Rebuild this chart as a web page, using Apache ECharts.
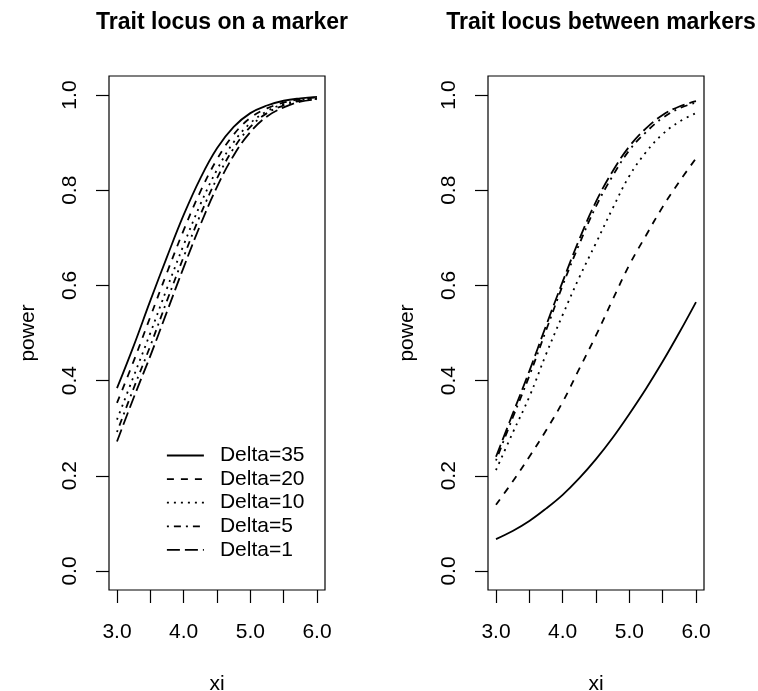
<!DOCTYPE html>
<html><head><meta charset="utf-8">
<script src="https://cdn.jsdelivr.net/npm/echarts@6/dist/echarts.min.js"></script>
<style>html,body{margin:0;padding:0;background:#fff}#c{width:758px;height:691px}</style>
</head><body><div id="c"></div>
<script>
const xs = [3.0,3.25,3.5,3.75,4.0,4.25,4.5,4.75,5.0,5.25,5.5,5.75,6.0];
const seriesNames = ['Delta=35','Delta=20','Delta=10','Delta=5','Delta=1'];
const xTicks = [3.0,3.5,4.0,4.5,5.0,5.5,6.0];
const xLabels = [3.0,4.0,5.0,6.0];
const yTicks = [0.0,0.2,0.4,0.6,0.8,1.0];
const titles = ['Trait locus on a marker','Trait locus between markers'];
const xName = 'xi', yName = 'power';

const markerD35 = [.384,.473,.568,.660,.748,.825,.888,.933,.962,.978,.988,.993,.996];
const markerD20 = [.353,.441,.534,.627,.716,.797,.865,.917,.952,.972,.984,.991,.995];
const markerD10 = [.318,.409,.500,.594,.685,.770,.843,.901,.941,.966,.981,.989,.994];
const markerD5  = [.292,.384,.473,.568,.660,.748,.825,.888,.933,.962,.978,.988,.992];
const markerD1  = [.272,.364,.452,.545,.638,.727,.807,.873,.922,.955,.974,.986,.991];

const betweenD35 = [.067,.084,.105,.131,.160,.195,.235,.280,.330,.383,.440,.501,.565];
const betweenD20 = [.139,.188,.240,.295,.355,.425,.495,.570,.643,.705,.765,.818,.867];
const betweenD10 = [.212,.290,.366,.455,.538,.617,.689,.762,.830,.880,.918,.944,.962];
const betweenD5  = [.232,.322,.410,.505,.600,.687,.766,.830,.884,.922,.952,.972,.984];
const betweenD1  = [.240,.330,.420,.515,.608,.697,.776,.840,.892,.930,.958,.976,.987];

const FONT = '"Liberation Sans", Arial, Helvetica, sans-serif';
const FS = 21;
const dashes = ['solid',[7,7],[2,5],[2,5,7,5],[13,5]];
const markerSets = [markerD35,markerD20,markerD10,markerD5,markerD1];
const betweenSets = [betweenD35,betweenD20,betweenD10,betweenD5,betweenD1];

const grids = [
  {left:109, top:76, width:216, height:514, show:true, borderColor:'#000', borderWidth:1.2, backgroundColor:'transparent', containLabel:false, outerBoundsMode:'none'},
  {left:488, top:76, width:216, height:514, show:true, borderColor:'#000', borderWidth:1.2, backgroundColor:'transparent', containLabel:false, outerBoundsMode:'none'}
];
function xAxis(i){return {type:'value', gridIndex:i, min:2.88, max:6.12, position:'bottom',
  name:xName, nameLocation:'middle', nameGap:84, nameTextStyle:{fontSize:FS, fontFamily:FONT, color:'#000'},
  axisLine:{show:false, onZero:false}, splitLine:{show:false},
  axisTick:{show:true, length:13, inside:false, customValues:xTicks, lineStyle:{color:'#000', width:1.2}},
  axisLabel:{show:true, customValues:xLabels, margin:32, fontSize:FS, fontFamily:FONT, color:'#000', formatter:v=>v.toFixed(1)}};}
function yAxis(i){return {type:'value', gridIndex:i, min:-0.04, max:1.04, position:'left',
  name:yName, nameLocation:'middle', nameGap:70, nameRotate:90, nameTextStyle:{fontSize:FS, fontFamily:FONT, color:'#000'},
  axisLine:{show:false, onZero:false}, splitLine:{show:false},
  axisTick:{show:true, length:13, inside:false, customValues:yTicks, lineStyle:{color:'#000', width:1.2}},
  axisLabel:{show:true, customValues:yTicks, rotate:90, margin:28, fontSize:FS, fontFamily:FONT, color:'#000', formatter:v=>v.toFixed(1)}};}

const series = [];
[markerSets, betweenSets].forEach((sets, gi) => {
  sets.forEach((vals, k) => {
    series.push({type:'line', name:seriesNames[k], xAxisIndex:gi, yAxisIndex:gi,
      data: xs.map((x,j)=>[x, vals[j]]), smooth:0.4, symbol:'none', showSymbol:false,
      lineStyle:{color:'#000', width:1.8, type:dashes[k], cap:'butt'}, itemStyle:{color:'#000'}, silent:true});
  });
});

const chart = echarts.init(document.getElementById('c'), null, {renderer:'canvas'});
chart.setOption({
  animation:false, backgroundColor:'#fff',
  title:[
    {text:titles[0], left:217, top:6, textAlign:'center', textStyle:{fontSize:23, fontWeight:'bold', fontFamily:FONT, color:'#000'}},
    {text:titles[1], left:596, top:6, textAlign:'center', textStyle:{fontSize:23, fontWeight:'bold', fontFamily:FONT, color:'#000'}}
  ],
  legend:{orient:'vertical', left:166, top:445, padding:0, itemWidth:37, itemHeight:14, itemGap:2.6,
    data:seriesNames, selectedMode:false,
    itemStyle:{opacity:0},
    lineStyle:{width:1.8},
    textStyle:{fontSize:FS, lineHeight:20, fontFamily:FONT, color:'#000', padding:[0,0,0,11]}},
  grid:grids,
  xAxis:[xAxis(0), xAxis(1)],
  yAxis:[yAxis(0), yAxis(1)],
  series:series
});
</script></body></html>
